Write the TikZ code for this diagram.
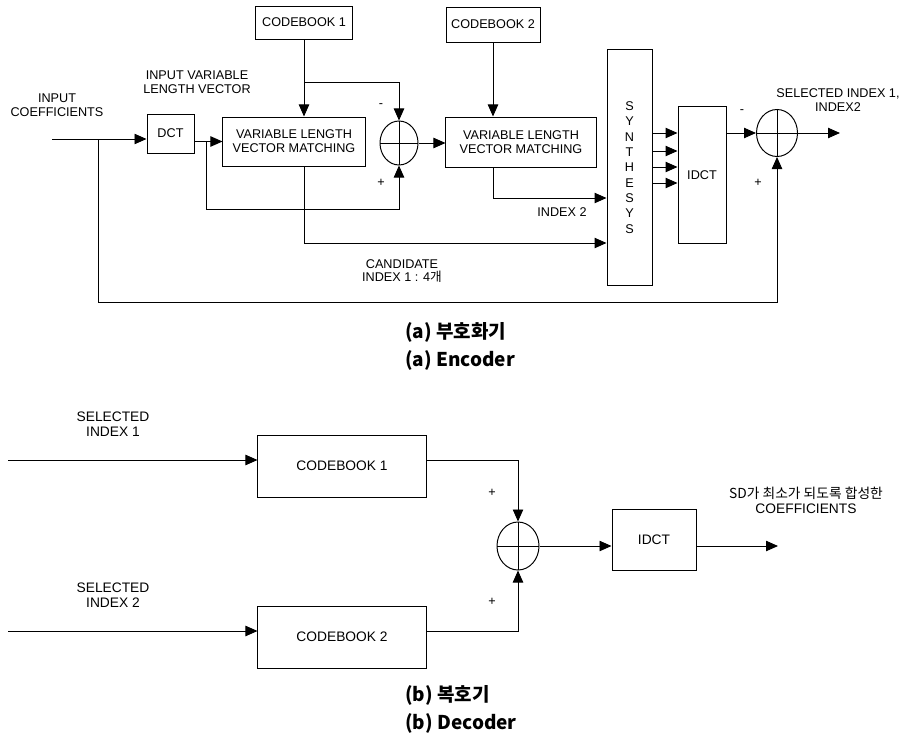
\documentclass[tikz,border=0pt]{standalone}
\usepackage{fontspec}
\setmainfont{Liberation Sans}
\newfontfamily\kor{Noto Sans CJK KR}
\usetikzlibrary{arrows.meta,shapes.geometric}
\tikzset{
  flow/.style={-{Triangle[length=3mm,width=2.6mm]},line width=0.7pt},
  box/.style={draw,line width=0.7pt,align=center,inner sep=1pt,
    font=\fontsize{9}{10}\selectfont},
  sumnode/.style={ellipse,draw,line width=0.7pt,inner sep=0pt,
    minimum width=0.95cm,minimum height=1.1cm,
    path picture={\draw[line width=0.7pt]
      (path picture bounding box.north) -- (path picture bounding box.south)
      (path picture bounding box.west) -- (path picture bounding box.east);}},
  lbl/.style={align=center,inner sep=0pt,font=\fontsize{9}{9.8}\selectfont},
  declbl/.style={lbl,font=\fontsize{9.8}{10.6}\selectfont},
  sign/.style={inner sep=0pt,font=\fontsize{9}{10}\selectfont},
  captext/.style={anchor=west,inner sep=0pt,font=\kor\bfseries\fontsize{13.5}{15}\selectfont}
}

\begin{document}
\begin{tikzpicture}[x=0.025cm,y=-0.025cm]
  \useasboundingbox (0,0) rectangle (913,736);
  % (a) encoder
  \node[box,minimum width=2.4cm,minimum height=0.825cm] (cbA) at (304,22.5) {CODEBOOK 1};
  \node[box,minimum width=2.35cm,minimum height=0.875cm] (cbB) at (493,24.5) {CODEBOOK 2};
  \node[box,minimum width=1.175cm,minimum height=0.975cm] (dct) at (170.5,133.5) {DCT};
  \node[box,minimum width=3.55cm,minimum height=1.225cm] (vlvmA) at (294,141.5) {VARIABLE LENGTH\\VECTOR MATCHING};
  \node[box,minimum width=3.75cm,minimum height=1.25cm] (vlvmB) at (521,142) {VARIABLE LENGTH\\VECTOR MATCHING};
  \node[box,minimum width=1.125cm,minimum height=5.875cm,font=\fontsize{9}{10.9}\selectfont] (synth) at (629.5,167.5) {S\\Y\\N\\T\\H\\E\\S\\Y\\S};
  \node[box,minimum width=1.2cm,minimum height=3.4cm] (idct) at (702,175) {IDCT};
  \node[sumnode] (sumA) at (399,143) {};
  \node[sumnode,minimum width=1.025cm,minimum height=1.175cm] (sumB) at (777,133) {};
  \coordinate (inE) at (52,139);
  \coordinate (tapE) at (98,139);
  \coordinate (jA) at (206,141.5);
  \coordinate (outE) at (840,133);

  \draw[flow] (inE) -- (inE -| dct.west);
  \draw[flow] (dct.east |- vlvmA.west) -- (vlvmA.west);
  \draw[flow] (jA) -- (jA |- 0,209) -| (sumA.south);
  \draw[flow] (cbA.south) -- (cbA |- vlvmA.north);
  \draw[flow] (cbA |- 0,82) -| (sumA.north);
  \draw[flow] (sumA.east) -- (sumA.east -| vlvmB.west);
  \draw[flow] (cbB.south) -- (cbB |- vlvmB.north);
  \draw[flow] (cbB |- vlvmB.south) |- (synth.west |- 0,198);
  \draw[flow] (cbA |- vlvmA.south) |- (synth.west |- 0,243);
  \foreach \y in {133,151,167,183}
    \draw[flow] (synth.east |- 0,\y) -- (idct.west |- 0,\y);
  \draw[flow] (idct.east |- sumB.west) -- (sumB.west);
  \draw[flow] (sumB.east) -- (outE);
  \draw[flow] (tapE) |- (sumB |- 0,302) -- (sumB.south);

  \node[lbl] (lInCoef) at (57,105) {INPUT\\COEFFICIENTS};
  \node[lbl] (lInVec) at (197,82) {INPUT VARIABLE\\LENGTH VECTOR};
  \node[sign] (sA1) at (381,106) {-};
  \node[sign] (sA2) at (381,183) {+};
  \node[lbl] (lIdx2) at (562,212) {INDEX 2};
  \node[lbl] (lCand) at (402,271) {CANDIDATE\\INDEX 1 : 4{\kor 개}};
  \node[sign] (sB1) at (742,112) {-};
  \node[sign] (sB2) at (758,183) {+};
  \node[lbl] (lSel) at (838,100) {SELECTED INDEX 1,\\INDEX2};
  \node[captext] (capA1) at (405,332) {(a) 부호화기};
  \node[captext] (capA2) at (405,360) {(a) Encoder};

  % (b) decoder
  \node[box,minimum width=4.2cm,minimum height=1.55cm,font=\fontsize{9.8}{11}\selectfont] (cbC) at (342,466) {CODEBOOK 1};
  \node[box,minimum width=4.2cm,minimum height=1.55cm,font=\fontsize{9.8}{11}\selectfont] (cbD) at (342,637) {CODEBOOK 2};
  \node[sumnode,minimum width=1.05cm,minimum height=1.2cm] (sumC) at (518,546) {};
  \node[box,minimum width=2.1cm,minimum height=1.525cm,font=\fontsize{9.8}{11}\selectfont] (idctB) at (654,540) {IDCT};
  \coordinate (inC) at (8,460);
  \coordinate (inD) at (8,631);
  \coordinate (outD) at (778,546);

  \draw[flow] (inC) -- (inC -| cbC.west);
  \draw[flow] (cbC.east |- inC) -| (sumC.north);
  \draw[flow] (inD) -- (inD -| cbD.west);
  \draw[flow] (cbD.east |- inD) -| (sumC.south);
  \draw[flow] (sumC.east) -- (sumC.east -| idctB.west);
  \draw[flow] (idctB.east |- sumC) -- (outD);

  \node[declbl] (lSelA) at (113,424) {SELECTED\\INDEX 1};
  \node[declbl] (lSelB) at (113,595) {SELECTED\\INDEX 2};
  \node[sign] (sC1) at (492,493) {+};
  \node[sign] (sC2) at (492,602) {+};
  \node[declbl] (lOut) at (806,500) {{\kor SD가 최소가 되도록 합성한}\\COEFFICIENTS};
  \node[captext] (capB1) at (405,695) {(b) 복호기};
  \node[captext] (capB2) at (405,723) {(b) Decoder};
\end{tikzpicture}
\end{document}
